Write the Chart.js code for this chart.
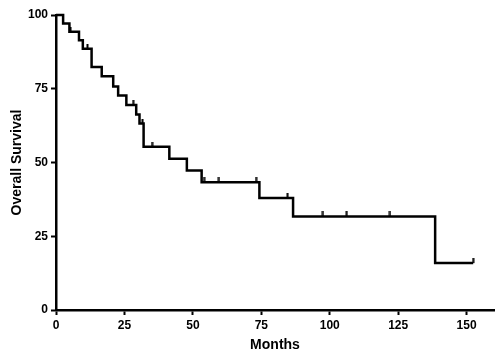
<!DOCTYPE html>
<html>
<head>
<meta charset="utf-8">
<script src="https://cdn.jsdelivr.net/npm/chart.js@4/dist/chart.umd.min.js"></script>
<style>
  html, body { margin: 0; padding: 0; background: #fff; }
  #myChart { display: block; }
</style>
</head>
<body>
<canvas id="myChart" width="500" height="361"></canvas>
<script>
// Kaplan-Meier steps: month of each drop and survival after it
const stepMonths = [0, 2.6, 4.9, 8.4, 9.8, 13, 16.7, 20.9, 22.7, 25.7, 29.3, 30.5, 32, 41.4, 47.8, 53.2, 74.3, 86.6, 138.5, 152.4];
const stepSurvival = [100, 97.1, 94.3, 91.4, 88.6, 82.4, 79.2, 75.8, 72.7, 69.5, 66.3, 63.2, 55.3, 51.3, 47.3, 43.3, 38.0, 31.7, 15.9, 15.9];

// censored patients (small ticks on the curve)
const censorMonths = [5.3, 11.5, 28.2, 31.6, 35.1, 54.1, 59.5, 73.1, 84.6, 97.5, 106.2, 122, 152.4];
const censorSurvival = [94.3, 88.6, 69.5, 63.2, 55.3, 43.3, 43.3, 43.3, 38.0, 31.7, 31.7, 31.7, 15.9];

const xTicks = [0, 25, 50, 75, 100, 125, 150];
const yTicks = [0, 25, 50, 75, 100];

//Marca de censura: traço vertical só acima da linha
function censorMark() {
    const c = document.createElement('canvas');
    c.width = 3;
    c.height = 10;
    const g = c.getContext('2d');
    g.fillStyle = '#000';
    g.fillRect(0.5, 0, 2, 5);
    return c;
}

function toPoints(xs, ys) {
    let pts = [];
    for (let i = 0; i < xs.length; i++) {
        pts.push({ x: xs[i], y: ys[i] });
    }
    return pts;
}

const font = { family: "'Liberation Sans', Arial, sans-serif", weight: 'bold', size: 12 };
const titleFont = { family: "'Liberation Sans', Arial, sans-serif", weight: 'bold', size: 14 };

const ctx = document.getElementById('myChart').getContext('2d');
const myChart = new Chart(ctx, {
    type: 'line',
    data: {
        datasets: [{
            data: toPoints(stepMonths, stepSurvival),
            stepped: 'before',
            borderColor: '#000',
            borderWidth: 2.5,
            pointRadius: 0,
            fill: false,
            clip: false
        }, {
            type: 'scatter',
            data: toPoints(censorMonths, censorSurvival),
            pointStyle: censorMark(),
            pointRadius: 5,
            clip: false
        }]
    },
    options: {
        responsive: false,
        animation: false,
        layout: { padding: { top: 15, right: 2, left: 0, bottom: 0 } },
        plugins: { legend: { display: false }, tooltip: { enabled: false } },
        scales: {
            x: {
                type: 'linear',
                min: 0,
                max: 160,
                afterFit: s => { s.height = 51; },
                afterBuildTicks: s => { s.ticks = xTicks.map(v => ({ value: v })); },
                grid: { drawOnChartArea: false, tickLength: 5, tickWidth: 2, tickColor: '#000' },
                border: { color: '#000', width: 2.5 },
                ticks: { color: '#000', font: font, padding: 3, maxRotation: 0 },
                title: { display: true, text: 'Months', color: '#000', font: titleFont, padding: { top: 0, bottom: 7 } }
            },
            y: {
                min: 0,
                max: 100,
                afterFit: s => { s.width = 56; },
                afterBuildTicks: s => { s.ticks = yTicks.map(v => ({ value: v })); },
                grid: { drawOnChartArea: false, tickLength: 5, tickWidth: 2, tickColor: '#000' },
                border: { color: '#000', width: 2.5 },
                ticks: { color: '#000', font: font, padding: 3 },
                title: { display: true, text: 'Overall Survival', color: '#000', font: titleFont, padding: { top: 9, bottom: 0 } }
            }
        }
    }
});
</script>
</body>
</html>
